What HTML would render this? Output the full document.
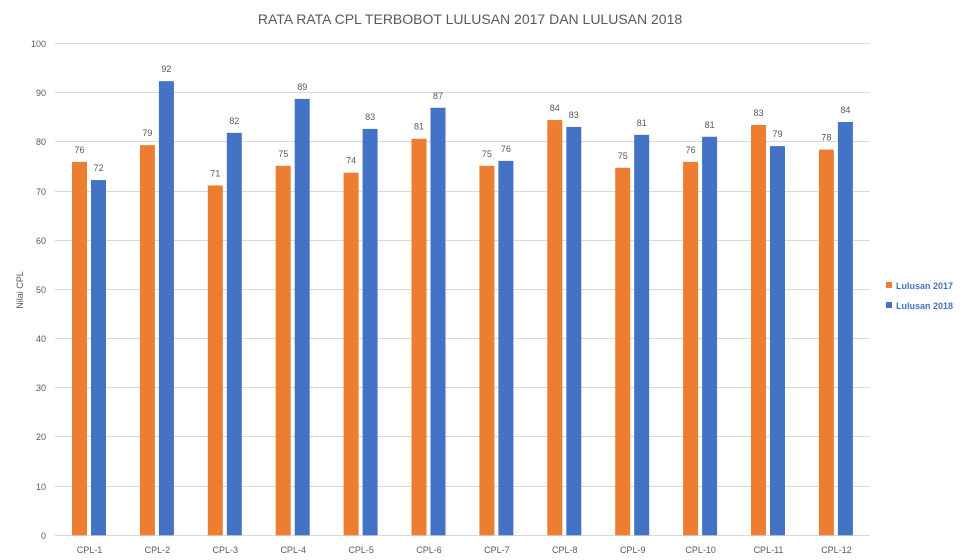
<!DOCTYPE html>
<html><head><meta charset="utf-8"><style>
html,body{margin:0;padding:0;background:#fff;}
svg{display:block;font-family:"Liberation Sans",sans-serif;}
</style></head><body>
<svg width="962" height="560" xmlns="http://www.w3.org/2000/svg">
<rect width="962" height="560" fill="#fff"/>
<text x="470" y="24" text-anchor="middle" font-size="14" fill="#595959">RATA RATA CPL TERBOBOT LULUSAN 2017 DAN LULUSAN 2018</text>
<g stroke="#d9d9d9" stroke-width="1">
<line x1="55" x2="870" y1="43.5" y2="43.5"/><line x1="55" x2="870" y1="92.5" y2="92.5"/>
<line x1="55" x2="870" y1="141.5" y2="141.5"/><line x1="55" x2="870" y1="191.5" y2="191.5"/>
<line x1="55" x2="870" y1="240.5" y2="240.5"/><line x1="55" x2="870" y1="289.5" y2="289.5"/>
<line x1="55" x2="870" y1="338.5" y2="338.5"/><line x1="55" x2="870" y1="387.5" y2="387.5"/>
<line x1="55" x2="870" y1="436.5" y2="436.5"/><line x1="55" x2="870" y1="486.5" y2="486.5"/>
<line x1="55" x2="870" y1="535.5" y2="535.5"/>
</g>
<g font-size="9" fill="#595959" text-anchor="end">
<text x="46" y="47">100</text><text x="46" y="96">90</text><text x="46" y="145">80</text>
<text x="46" y="195">70</text><text x="46" y="244">60</text><text x="46" y="293">50</text>
<text x="46" y="342">40</text><text x="46" y="391">30</text><text x="46" y="440">20</text>
<text x="46" y="490">10</text><text x="46" y="539">0</text>
</g>
<text transform="translate(23,290) rotate(-90)" text-anchor="middle" font-size="9" fill="#595959">Nilai CPL</text>
<g id="bars"></g>
<g font-size="9" fill="#595959" text-anchor="middle" id="lbl"></g>
<rect x="886" y="282" width="6" height="6" fill="#ed7d31"/>
<text x="896" y="289" font-size="9" font-weight="bold" fill="#4472c4">Lulusan 2017</text>
<rect x="886" y="302" width="6" height="6" fill="#4472c4"/>
<text x="896" y="309" font-size="9" font-weight="bold" fill="#4472c4">Lulusan 2018</text>
<script>
var a=[75.9,79.3,71.1,75.1,73.7,80.6,75.1,84.4,74.7,75.9,83.4,78.4];
var b=[72.2,92.3,81.8,88.7,82.6,86.9,76.1,83.0,81.4,81.0,79.1,84.0];
var ns="http://www.w3.org/2000/svg",g=document.getElementById('bars'),l=document.getElementById('lbl');
function r(x,v,c){var e=document.createElementNS(ns,'rect');var y=535.3-v*4.92;e.setAttribute('x',x);e.setAttribute('y',y);e.setAttribute('width',15);e.setAttribute('height',535.3-y);e.setAttribute('fill',c);g.appendChild(e);
var t=document.createElementNS(ns,'text');t.setAttribute('x',x+7.5);t.setAttribute('y',y-9);t.textContent=Math.round(v);l.appendChild(t);}
for(var i=0;i<12;i++){var c=89.5+i*67.9;r(c-17.5,a[i],'#ed7d31');r(c+1.5,b[i],'#4472c4');
var t=document.createElementNS(ns,'text');t.setAttribute('x',c);t.setAttribute('y',553);t.textContent='CPL-'+(i+1);l.appendChild(t);}
</script>
</svg>
</body></html>
